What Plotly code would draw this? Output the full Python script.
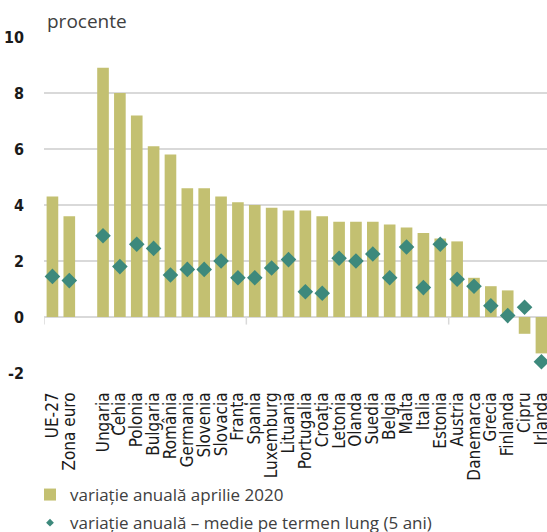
import plotly.graph_objects as go

categories = ["UE-27", "Zona euro", "", "Ungaria", "Cehia", "Polonia", "Bulgaria", "România",
              "Germania", "Slovenia", "Slovacia", "Franța", "Spania", "Luxemburg", "Lituania",
              "Portugalia", "Croația", "Letonia", "Olanda", "Suedia", "Belgia", "Malta", "Italia",
              "Estonia", "Austria", "Danemarca", "Grecia", "Finlanda", "Cipru", "Irlanda"]
april_2020 = [4.3, 3.6, None, 8.9, 8.0, 7.2, 6.1, 5.8,
              4.6, 4.6, 4.3, 4.1, 4.0, 3.9, 3.8,
              3.8, 3.6, 3.4, 3.4, 3.4, 3.3, 3.2, 3.0,
              2.8, 2.7, 1.4, 1.1, 0.95, -0.6, -1.3]
long_term = [1.45, 1.3, None, 2.9, 1.8, 2.6, 2.45, 1.5,
             1.7, 1.7, 2.0, 1.4, 1.4, 1.75, 2.05,
             0.9, 0.85, 2.1, 2.0, 2.25, 1.4, 2.5, 1.05,
             2.6, 1.35, 1.1, 0.4, 0.05, 0.35, -1.6]
y_ticks = [-2, 0, 2, 4, 6, 8, 10]
y_tick_text = ["-2", "0", "2", "4", "6", "8", "10"]
group_ticks = [-0.5, 11.5, 23.5]

name_bar = "variație anuală aprilie 2020"
name_dia = "variație anuală – medie pe termen lung (5 ani)"

x = list(range(len(categories)))
BAR = "#C3C071"
DIA = "#3D897C"
GRID = "#D9D9D9"
COND = "Liberation Sans Narrow, DejaVu Sans Condensed, Arial Narrow, sans-serif"
REG = "Open Sans, Noto Sans, sans-serif"

W, H = 547, 532

fig = go.Figure()
fig.add_trace(go.Bar(x=x, y=april_2020, name=name_bar, marker_color=BAR,
                     marker_line_width=0, legendgroup="a"))
fig.add_trace(go.Scatter(x=x, y=long_term, mode="markers", name=name_dia,
                         marker=dict(symbol="diamond", size=12, color=DIA),
                         showlegend=False, legendgroup="b"))
fig.add_trace(go.Scatter(x=[None], y=[None], mode="markers", name=name_dia,
                         marker=dict(symbol="diamond", size=6, color=DIA),
                         legendgroup="b"))

for gt in group_ticks:
    fig.add_shape(type="line", xref="x", yref="y", x0=gt, x1=gt, y0=0, y1=-0.27,
                  line=dict(color=GRID, width=1.5), layer="below")

xr = [-0.5, 29.33]
fig.update_layout(
    width=W, height=H,
    margin=dict(l=44, r=0, t=37, b=159, autoexpand=False),
    plot_bgcolor="white", paper_bgcolor="white",
    bargap=0.31,
    showlegend=True,
    legend=dict(xref="container", yref="container", x=30 / W, y=1 - 477 / H,
                xanchor="left", yanchor="top", tracegroupgap=3,
                font=dict(family=REG, size=17, color="#404040"),
                bgcolor="rgba(0,0,0,0)"),
    xaxis=dict(range=xr, tickmode="array", tickvals=x, ticktext=categories,
               tickangle=-90, showgrid=False, zeroline=False, showline=False,
               ticks="", ticklabelstandoff=15, automargin=False,
               ticklabeloverflow="allow",
               tickfont=dict(family=COND, size=17, color="#1a1a1a")),
    yaxis=dict(range=[-2, 10], tickmode="array", tickvals=y_ticks, ticktext=y_tick_text,
               showgrid=True, gridcolor=GRID, gridwidth=1.5,
               zeroline=True, zerolinecolor=GRID, zerolinewidth=1.5,
               showline=False, ticks="", ticklabelstandoff=19, automargin=False,
               ticklabeloverflow="allow",
               tickfont=dict(family=COND, size=16, color="#1a1a1a", weight="bold")),
    annotations=[dict(text="procente", xref="paper", yref="paper", x=0, y=1,
                      xanchor="left", yanchor="bottom", xshift=1, yshift=1,
                      showarrow=False, font=dict(family=REG, size=19, color="#404040"))],
)
# remove the browser's default 8px page margin so the figure fills the window exactly
fig.write_html("out.html", config={"displayModeBar": False},
               post_script="document.body.style.margin='0';")
